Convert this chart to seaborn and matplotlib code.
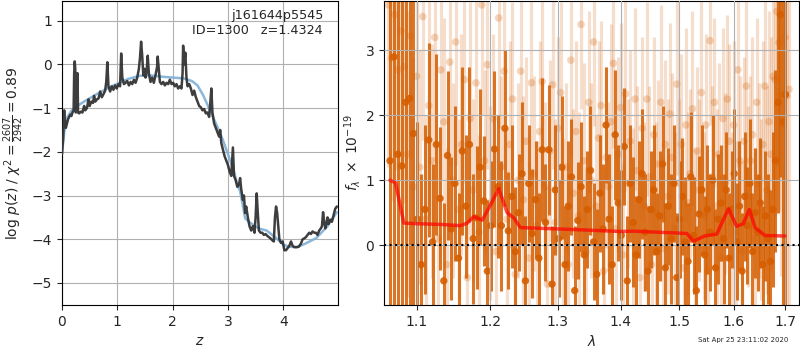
import matplotlib
matplotlib.use("Agg")
import matplotlib.pyplot as plt
import seaborn as sns
import numpy as np
import pandas as pd

# ---------------- data: p(z) panel ----------------
pz_z = [0.00, 0.02, 0.03, 0.04, 0.05, 0.06, 0.07, 0.09, 0.11, 0.13, 0.15, 0.17, 0.19, 0.21, 0.22, 0.23, 0.24, 0.25,
        0.27, 0.28, 0.29, 0.31, 0.34, 0.37, 0.40, 0.42, 0.45, 0.48, 0.50, 0.53, 0.56, 0.58, 0.60, 0.63, 0.66, 0.69,
        0.72, 0.75, 0.78, 0.80, 0.82, 0.84, 0.87, 0.90, 0.93, 0.96, 0.99, 1.02, 1.05, 1.07, 1.09, 1.12, 1.15, 1.18,
        1.21, 1.24, 1.27, 1.30, 1.33, 1.36, 1.39, 1.41, 1.43, 1.45, 1.47, 1.49, 1.51, 1.53, 1.55, 1.57, 1.60, 1.63,
        1.66, 1.69, 1.72, 1.73, 1.75, 1.77, 1.80, 1.83, 1.86, 1.89, 1.92, 1.95, 1.98, 2.01, 2.04, 2.07, 2.10, 2.13,
        2.16, 2.18, 2.19, 2.21, 2.23, 2.25, 2.27, 2.30, 2.33, 2.36, 2.39, 2.42, 2.45, 2.48, 2.51, 2.54, 2.57, 2.60,
        2.63, 2.66, 2.68, 2.70, 2.72, 2.75, 2.78, 2.81, 2.84, 2.86, 2.88, 2.91, 2.94, 2.97, 3.00, 3.03, 3.06, 3.09,
        3.11, 3.14, 3.17, 3.20, 3.22, 3.24, 3.27, 3.29, 3.31, 3.33, 3.36, 3.39, 3.42, 3.45, 3.48, 3.50, 3.52, 3.54,
        3.56, 3.59, 3.62, 3.65, 3.68, 3.71, 3.74, 3.77, 3.80, 3.83, 3.85, 3.87, 3.89, 3.91, 3.93, 3.96, 3.99, 4.02,
        4.05, 4.08, 4.11, 4.14, 4.17, 4.20, 4.24, 4.28, 4.32, 4.35, 4.38, 4.41, 4.44, 4.47, 4.50, 4.53, 4.56, 4.59,
        4.62, 4.65, 4.68, 4.70, 4.72, 4.74, 4.76, 4.78, 4.80, 4.82, 4.85, 4.88, 4.91, 4.94, 4.97]
pz_logp = [-2.05, -1.70, -1.40, -1.05, -1.35, -1.30, -1.45, -1.35, -1.25, -1.20, -1.15, -1.18, -1.10, -1.05, -0.20, 0.07,
           -0.10, -1.10, -0.95, -0.20, -1.10, -1.12, -1.08, -1.10, -0.95, -1.05, -1.00, -0.80, -0.95, -0.85, -0.88,
           -0.72, -0.85, -0.80, -0.78, -0.62, -0.75, -0.68, -0.60, -0.40, 0.05, -0.50, -0.62, -0.50, -0.58, -0.48,
           -0.55, -0.45, -0.50, 0.25, -0.30, -0.45, -0.42, -0.38, -0.48, -0.40, -0.45, -0.35, -0.42, -0.30, -0.10,
           0.15, 0.52, 0.20, -0.25, -0.10, -0.30, -0.15, 0.20, -0.20, -0.40, -0.30, -0.42, -0.25, -0.05, 0.18, -0.10,
           -0.40, -0.45, -0.40, -0.48, -0.42, -0.45, -0.35, -0.45, -0.42, -0.50, -0.45, -0.55, -0.50, -0.55, -0.20,
           0.43, 0.00, 0.27, -0.30, -0.50, -0.45, -0.55, -0.70, -0.60, -0.75, -0.85, -0.95, -0.98, -1.05, -1.02,
           -1.12, -1.10, -1.20, -0.90, -0.55, -1.10, -1.35, -1.45, -1.55, -1.65, -1.50, -1.80, -1.95, -2.10, -2.20,
           -2.30, -2.45, -2.55, -1.90, -2.55, -2.65, -2.80, -2.75, -2.60, -2.85, -3.10, -3.00, -3.40, -3.25, -3.50,
           -3.70, -3.80, -3.70, -3.85, -3.50, -2.95, -3.40, -3.80, -3.85, -3.85, -3.90, -3.88, -3.92, -3.95, -3.98,
           -4.02, -4.05, -3.50, -3.25, -3.40, -3.70, -4.00, -4.08, -4.05, -4.25, -4.25, -4.20, -4.15, -4.05, -4.15,
           -4.18, -4.18, -4.17, -4.10, -4.00, -3.98, -3.95, -3.90, -3.85, -3.88, -3.82, -3.85, -3.85, -3.90, -3.80,
           -3.75, -3.70, -3.38, -3.60, -3.75, -3.65, -3.50, -3.65, -3.55, -3.60, -3.45, -3.30, -3.25]
prior_z = [0.00, 0.04, 0.10, 0.17, 0.25, 0.40, 0.60, 0.80, 1.00, 1.20, 1.40, 1.60, 1.80, 2.00, 2.20, 2.35, 2.45,
           2.55, 2.68, 2.80, 2.90, 3.00, 3.10, 3.16, 3.22, 3.28, 3.31, 3.40, 3.55, 3.70, 3.85, 4.00, 4.10, 4.25,
           4.40, 4.60, 4.80, 4.97]
prior_logp = [-2.05, -1.55, -1.20, -1.06, -0.97, -0.85, -0.70, -0.56, -0.44, -0.33, -0.26, -0.25, -0.28, -0.30,
              -0.32, -0.38, -0.48, -0.70, -1.06, -1.40, -1.70, -2.05, -2.40, -2.70, -2.90, -3.30, -3.52, -3.62,
              -3.75, -3.80, -3.95, -4.12, -4.17, -4.18, -4.10, -3.97, -3.70, -3.38]

# ---------------- data: spectrum panel ----------------
dark_wave = [1.066, 1.071, 1.076, 1.081, 1.086, 1.091, 1.096, 1.101, 1.106, 1.111,
             1.116, 1.121, 1.126, 1.131, 1.136, 1.141, 1.146, 1.151, 1.156, 1.161,
             1.166, 1.171, 1.176, 1.181, 1.186, 1.191, 1.196, 1.201, 1.206, 1.211,
             1.216, 1.221, 1.226, 1.231, 1.236, 1.241, 1.246, 1.251, 1.256, 1.261,
             1.266, 1.271, 1.276, 1.281, 1.286, 1.291, 1.296, 1.301, 1.306, 1.311,
             1.316, 1.321, 1.326, 1.331, 1.336, 1.341, 1.346, 1.351, 1.356, 1.361,
             1.366, 1.371, 1.376, 1.381, 1.386, 1.391, 1.396, 1.401, 1.406, 1.411,
             1.416, 1.421, 1.426, 1.431, 1.436, 1.441, 1.446, 1.451, 1.456, 1.461,
             1.466, 1.471, 1.476, 1.481, 1.486, 1.491, 1.496, 1.501, 1.506, 1.511,
             1.516, 1.521, 1.526, 1.531, 1.536, 1.541, 1.546, 1.551, 1.556, 1.561,
             1.566, 1.571, 1.576, 1.581, 1.586, 1.591, 1.596, 1.601, 1.606, 1.611,
             1.616, 1.621, 1.626, 1.631, 1.636, 1.641, 1.646, 1.651, 1.656, 1.661,
             1.666, 1.671, 1.676, 1.681, 1.686, 1.691, 1.696, 1.701]
dark_flux = [1.30, 2.90, 1.40, 1.22, 2.20, 2.26, 1.72, 0.40, -0.30, 0.55,
             1.62, 0.05, 1.55, 0.72, -0.55, 1.38, 0.25, 0.95, -0.20, 1.45,
             0.60, 1.55, 0.10, 0.42, 1.20, 0.68, -0.40, 0.30, 1.48, 0.90,
             0.30, 1.80, 0.22, 0.75, -0.10, 0.50, 1.10, -0.55, 0.95, 0.18,
             0.70, -0.20, 1.47, 0.35, 1.47, -0.60, 0.85, 0.10, 1.20, -0.30,
             0.60, 1.05, -0.70, 0.38, 0.90, -0.15, 0.55, 1.15, 0.05, -0.45,
             0.80, 0.25, 1.85, 0.40, -0.30, 1.70, 0.65, 0.15, 1.52, -0.55,
             0.95, 0.35, -0.15, 0.70, 1.10, 0.20, -0.40, 0.55, 0.85, -0.10,
             0.45, 1.25, -0.35, 0.60, 0.10, 0.95, -0.50, 0.40, 0.75, 0.05,
             -0.25, 1.05, 0.15, -0.70, 0.48, 0.85, -0.15, 0.55, 0.20, 1.00,
             -0.35, 0.40, 0.65, 0.10, 0.85, -0.20, 0.55, 1.10, 0.05, 0.60,
             -0.40, 0.75, 0.30, 0.95, -0.10, 0.50, 0.20, 0.65, -0.30, 0.45,
             0.10, -0.25, 0.55, 1.30, 2.20, 3.55, 1.90, 2.32]
dark_err = [6.0, 6.0, 6.0, 6.0, 6.0, 6.0, 6.0, 1.5, 1.4, 1.3,
            1.5, 1.2, 1.4, 1.1, 1.2, 1.3, 1.1, 1.2, 1.0, 1.3,
            1.1, 1.2, 1.0, 1.1, 1.2, 1.0, 1.1, 1.0, 1.2, 1.1,
            1.0, 1.2, 0.9, 1.1, 1.0, 0.9, 1.1, 1.0, 0.9, 1.0,
            0.9, 1.0, 1.1, 0.9, 1.0, 0.9, 1.0, 0.9, 1.1, 0.9,
            1.0, 0.9, 1.0, 0.9, 1.0, 0.9, 0.9, 1.0, 0.9, 1.0,
            0.9, 1.0, 0.9, 1.0, 0.9, 1.0, 0.9, 1.0, 0.9, 1.0,
            0.9, 1.0, 0.9, 0.9, 1.0, 0.9, 1.0, 0.9, 1.0, 0.9,
            1.0, 0.9, 1.0, 0.9, 1.0, 0.9, 1.0, 0.9, 0.9, 1.0,
            0.9, 1.0, 0.9, 1.0, 0.9, 1.0, 0.9, 1.0, 0.9, 1.0,
            0.9, 1.0, 0.9, 1.0, 0.9, 1.0, 0.9, 1.0, 0.9, 1.0,
            0.9, 1.0, 0.9, 1.0, 0.9, 1.0, 0.9, 1.0, 0.9, 1.0,
            1.0, 1.1, 1.2, 1.4, 1.7, 2.5, 3.5, 4.5]

light_wave = [1.064, 1.068, 1.072, 1.076, 1.080, 1.084, 1.088, 1.092, 1.096, 1.100,
              1.104, 1.108, 1.112, 1.116, 1.120, 1.124, 1.128, 1.132, 1.136, 1.140,
              1.144, 1.148, 1.152, 1.156, 1.160, 1.164, 1.168, 1.172, 1.176, 1.180,
              1.184, 1.188, 1.192, 1.196, 1.200, 1.204, 1.208, 1.212, 1.216, 1.220,
              1.224, 1.228, 1.232, 1.236, 1.240, 1.244, 1.248, 1.252, 1.256, 1.260,
              1.264, 1.268, 1.272, 1.276, 1.280, 1.284, 1.288, 1.292, 1.296, 1.300,
              1.304, 1.308, 1.312, 1.316, 1.320, 1.324, 1.328, 1.332, 1.336, 1.340,
              1.344, 1.348, 1.352, 1.356, 1.360, 1.364, 1.368, 1.372, 1.376, 1.380,
              1.384, 1.388, 1.392, 1.396, 1.400, 1.404, 1.408, 1.412, 1.416, 1.420,
              1.424, 1.428, 1.432, 1.436, 1.440, 1.444, 1.448, 1.452, 1.456, 1.460,
              1.464, 1.468, 1.472, 1.476, 1.480, 1.484, 1.488, 1.492, 1.496, 1.500,
              1.504, 1.508, 1.512, 1.516, 1.520, 1.524, 1.528, 1.532, 1.536, 1.540,
              1.544, 1.548, 1.552, 1.556, 1.560, 1.564, 1.568, 1.572, 1.576, 1.580,
              1.584, 1.588, 1.592, 1.596, 1.600, 1.604, 1.608, 1.612, 1.616, 1.620,
              1.624, 1.628, 1.632, 1.636, 1.640, 1.644, 1.648, 1.652, 1.656, 1.660,
              1.664, 1.668, 1.672, 1.676, 1.680, 1.684, 1.688, 1.692, 1.696, 1.700,
              1.704, 1.708]
light_flux = [3.70, 2.88, 3.55, 2.70, 3.30, 2.75, 1.40, 3.22, 0.90, 2.60,
              1.20, 3.52, 0.40, 2.15, 1.30, 3.20, 0.10, 2.70, 1.90, -0.30,
              2.82, 1.00, 3.13, 0.55, 1.55, 2.55, -0.50, 1.95, 0.85, 2.50,
              0.20, 3.70, 1.30, 2.78, 0.65, 1.95, -0.10, 3.50, 1.20, 2.68,
              0.40, 1.55, 2.25, -0.45, 1.00, 2.68, 0.70, 1.60, -0.20, 2.50,
              1.10, 0.30, 1.75, 2.52, 0.90, -0.60, 1.45, 2.47, 0.35, 1.80,
              2.35, 0.15, 1.20, -0.30, 2.85, 0.80, 1.75, 0.45, 3.40, 1.30,
              -0.10, 2.20, 1.00, 3.13, 0.60, 1.65, 2.15, -0.40, 1.35, 0.90,
              1.90, 2.80, 0.25, 1.40, 2.12, -0.15, 2.33, 0.95, 1.60, 0.30,
              2.25, 1.15, -0.50, 1.80, 0.60, 2.25, 1.05, -0.30, 1.70, 0.50,
              1.25, 2.20, -0.05, 1.55, 0.75, 2.02, 1.35, 0.25, 2.48, 0.95,
              1.55, -0.35, 1.85, 0.65, 1.10, 2.10, 0.10, 1.45, 0.85, 2.35,
              0.45, 1.85, -0.40, 3.15, 1.05, 2.20, 0.60, 1.40, -0.20, 1.95,
              0.95, 2.25, 1.60, 0.35, 1.85, 0.20, 2.70, 1.30, -0.10, 1.60,
              2.45, 0.75, 1.30, 1.70, 0.10, 2.20, 1.00, 0.55, 1.55, 2.45,
              0.85, 1.90, 1.40, 2.60, 2.55, 3.60, 3.12, 2.32, 1.85, 3.20,
              2.30, 2.40]
light_err = [2.5, 2.2, 2.4, 2.0, 2.3, 2.1, 2.2, 1.9, 2.0, 2.1,
             1.8, 1.9, 1.6, 1.7, 1.8, 1.9, 1.5, 1.7, 1.6, 1.8,
             1.6, 1.5, 1.9, 1.4, 1.7, 1.6, 1.5, 1.8, 1.4, 1.6,
             1.5, 1.7, 1.4, 1.6, 1.5, 1.3, 1.6, 1.7, 1.4, 1.5,
             1.4, 1.6, 1.5, 1.3, 1.5, 1.4, 1.6, 1.3, 1.5, 1.4,
             1.5, 1.3, 1.4, 1.6, 1.3, 1.5, 1.4, 1.3, 1.6, 1.4,
             1.4, 1.5, 1.3, 1.4, 1.5, 1.3, 1.4, 1.6, 1.3, 1.5,
             1.3, 1.4, 1.5, 1.3, 1.4, 1.5, 1.3, 1.6, 1.4, 1.3,
             1.5, 1.3, 1.4, 1.5, 1.3, 1.4, 1.5, 1.3, 1.4, 1.5,
             1.4, 1.3, 1.5, 1.4, 1.3, 1.5, 1.4, 1.3, 1.5, 1.4,
             1.3, 1.5, 1.4, 1.3, 1.5, 1.4, 1.3, 1.5, 1.4, 1.3,
             1.4, 1.3, 1.5, 1.4, 1.3, 1.5, 1.4, 1.3, 1.4, 1.5,
             1.3, 1.4, 1.5, 1.3, 1.4, 1.3, 1.5, 1.4, 1.3, 1.4,
             1.4, 1.3, 1.5, 1.4, 1.3, 1.4, 1.5, 1.3, 1.4, 1.3,
             1.5, 1.4, 1.3, 1.5, 1.4, 1.3, 1.5, 1.4, 1.6, 1.5,
             1.6, 1.7, 1.8, 1.9, 2.1, 2.4, 2.6, 2.8, 3.0, 3.2,
             3.4, 3.5]

model_wave = [1.066, 1.073, 1.0836, 1.10, 1.13, 1.1586, 1.168, 1.1769, 1.1887, 1.198, 1.2122, 1.2243, 1.2338,
              1.2436, 1.2986, 1.35, 1.40, 1.4213, 1.46, 1.5138, 1.5257, 1.5456, 1.5684, 1.590, 1.6058, 1.6183,
              1.6299, 1.641, 1.660, 1.700]
model_flux = [1.00, 0.96, 0.34, 0.33, 0.32, 0.30, 0.34, 0.44, 0.385, 0.57, 0.87, 0.50, 0.42,
              0.27, 0.25, 0.23, 0.21, 0.215, 0.20, 0.18, 0.06, 0.14, 0.17, 0.56, 0.29, 0.33,
              0.55, 0.27, 0.15, 0.14]

xticks_spec = [1.1, 1.2, 1.3, 1.4, 1.5, 1.6, 1.7]
xtick_labels_spec = ["1.1", "1.2", "1.3", "1.4", "1.5", "1.6", "1.7"]

# ---------------- figure ----------------
sns.set_style("ticks")
plt.rcParams['font.family'] = ['DejaVu Sans']
fig = plt.figure(figsize=(8, 3.5), dpi=100)
ax1 = fig.add_axes([0.0775, 0.129, 0.345, 0.868])
ax2 = fig.add_axes([0.48, 0.129, 0.5185, 0.868])

orange = '#d55e00'

# left panel
df_pz = pd.DataFrame({'z': pz_z, 'logp': pz_logp})
df_pr = pd.DataFrame({'z': prior_z, 'logp': prior_logp})
sns.lineplot(data=df_pr, x='z', y='logp', ax=ax1, color='#7fb0d8', lw=1.8, alpha=0.9,
             sort=False, estimator=None, zorder=3)
sns.lineplot(data=df_pz, x='z', y='logp', ax=ax1, color='#333333', lw=1.8, alpha=0.95,
             sort=False, estimator=None, zorder=4)
ax1.set_xlim(0, 4.99)
ax1.set_ylim(-5.5, 1.45)
ax1.set_xticks([0, 1, 2, 3, 4])
ax1.set_yticks([-5, -4, -3, -2, -1, 0, 1])
ax1.grid(True, color='#b0b0b0', lw=0.8)
ax1.set_xlabel(r'$z$')
ax1.set_ylabel(r'log $p(z)$ / $\chi^2=\frac{2607}{2942}=0.89$')
ax1.text(0.946, 0.975, 'j161644p5545\nID=1300   z=1.4324', transform=ax1.transAxes,
         ha='right', va='top', fontsize=9.2)
for s in ax1.spines.values():
    s.set_visible(True)
    s.set_color('k')

# right panel
ax2.set_xscale('log')
lw_ = np.array(light_wave); lf_ = np.array(light_flux); le_ = np.array(light_err)
dw_ = np.array(dark_wave); df_ = np.array(dark_flux); de_ = np.array(dark_err)
ax2.vlines(lw_, lf_ - le_, lf_ + le_, color=orange, alpha=0.2, lw=2.3, zorder=1)
sns.scatterplot(x=light_wave, y=light_flux, ax=ax2, color=orange, alpha=0.25, s=30,
                edgecolor='none', zorder=1.2, legend=False)
ax2.vlines(dw_, df_ - de_, df_ + de_, color=orange, alpha=0.85, lw=2.2, zorder=2)
sns.scatterplot(x=dark_wave, y=dark_flux, ax=ax2, color=orange, alpha=0.9, s=28,
                edgecolor='none', zorder=2.2, legend=False)
sns.lineplot(x=model_wave, y=model_flux, ax=ax2, color='red', lw=2.5, alpha=0.7,
             sort=False, estimator=None, zorder=5)
ax2.axhline(0, color='k', ls=':', lw=1.5, zorder=6)
ax2.set_xlim(1.0585, 1.728)
ax2.set_ylim(-0.92, 3.76)
ax2.set_xticks(xticks_spec)
ax2.set_xticklabels(xtick_labels_spec)
ax2.xaxis.set_minor_locator(matplotlib.ticker.NullLocator())
ax2.set_yticks([0, 1, 2, 3])
ax2.set_axisbelow(False)
ax2.grid(True, color='#b0b0b0', lw=0.8, zorder=3)
ax2.set_xlabel(r'$\lambda$')
ax2.set_ylabel(r'$f_\lambda\ \times\ 10^{-19}$', labelpad=2)
for s in ax2.spines.values():
    s.set_visible(True)
    s.set_color('k')

fig.text(0.929, 0.028, 'Sat Apr 25 23:11:02 2020', ha='center', va='center', fontsize=5)

fig.savefig('out.png', dpi=100)
